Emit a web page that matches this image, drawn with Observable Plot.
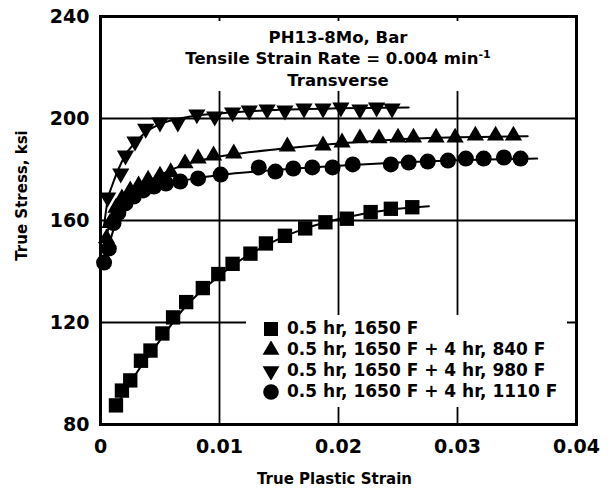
<!DOCTYPE html>
<html>
<head>
<meta charset="utf-8">
<script src="https://cdn.jsdelivr.net/npm/d3@7"></script>
<script src="https://cdn.jsdelivr.net/npm/@observablehq/plot@0.6"></script>
<style>
  body { margin: 0; background: #fff; }
  #wrap { position: relative; width: 612px; height: 488px; background: #fff; }
  #title { position: absolute; left: 102px; top: 21px; width: 472px; height: 70px; background: #fff;
           box-sizing: border-box; padding-top: 7px; text-align: center; font-family: "DejaVu Sans";
           font-weight: bold; font-size: 16.5px; line-height: 20.5px; color: #000; }
  #title sup { font-size: 11px; vertical-align: 0; position: relative; top: -6px; }
  #legend { position: absolute; left: 246px; top: 315px; width: 321px; height: 92px; background: #fff;
            box-sizing: border-box; padding-top: 3px; font-family: "DejaVu Sans"; font-weight: bold;
            font-size: 17px; color: #000; }
  #legend .row { height: 21px; line-height: 21px; display: flex; align-items: center; white-space: nowrap; }
  #legend svg { margin-left: 16px; margin-right: 7px; flex: none; }
</style>
</head>
<body>
<div id="wrap"></div>
<script>
// ---- text ----
const titleLine1 = "PH13-8Mo, Bar";
const titleLine2 = "Tensile Strain Rate = 0.004 min";
const titleLine2Sup = "-1";
const titleLine3 = "Transverse";
const xTitle = "True Plastic Strain";
const yTitle = "True Stress, ksi";
const seriesLabels = [
  "0.5 hr, 1650 F",
  "0.5 hr, 1650 F + 4 hr, 840 F",
  "0.5 hr, 1650 F + 4 hr, 980 F",
  "0.5 hr, 1650 F + 4 hr, 1110 F"
];
const xTicks = [0, 0.01, 0.02, 0.03, 0.04];
const xTickLabels = ["0", "0.01", "0.02", "0.03", "0.04"];
const yTicks = [80, 120, 160, 200, 240];
const yTickLabels = ["80", "120", "160", "200", "240"];
const xGrid = [0.01, 0.02, 0.03];
const yGrid = [120, 160, 200];

// ---- series A: squares, 0.5 hr 1650 F ----
const strainA = [0.0013,0.0018,0.0025,0.0034,0.0042,0.0052,0.0061,0.0072,0.0086,0.0099,0.0111,0.0126,0.0139,0.0155,0.0172,0.0189,0.0207,0.0227,0.0244,0.0262];
const stressA = [87.5,93.3,97.3,105,109,115.7,122,128,133.5,139,143,147,151,154,156.9,159.3,160.7,163.3,164.6,165.2];
const fitStrainA = [0.0011,0.003,0.005,0.007,0.009,0.011,0.013,0.015,0.017,0.019,0.021,0.023,0.025,0.0276];
const fitStressA = [85.5,100,113,125.5,134.5,142,148,152.8,156.5,159.4,161.6,163.3,164.6,165.6];

// ---- series B: triangles, + 4 hr 840 F ----
const strainB = [0.0005,0.0008,0.0013,0.0018,0.0025,0.0032,0.004,0.005,0.0059,0.0071,0.0082,0.0095,0.0112,0.0157,0.0187,0.0203,0.0218,0.0234,0.025,0.0263,0.0282,0.0298,0.0315,0.0332,0.0347];
const stressB = [153,159,165,168.6,171.8,173.7,176,177.6,178.9,182.4,184.3,185.5,186.3,189,189.4,190.6,192.2,192.2,192.5,192.5,192.5,192.5,193.3,193.3,193.3];
const fitStrainB = [0.0003,0.0008,0.0015,0.0025,0.0035,0.005,0.007,0.009,0.011,0.015,0.02,0.025,0.03,0.0359];
const fitStressB = [150,159,165,170.5,174,177.8,181.8,184.2,185.8,188,190.2,191.8,192.6,193];

// ---- series C: inverted triangles, + 4 hr 980 F ----
const strainC = [0.0006,0.0017,0.0021,0.0029,0.0038,0.005,0.0065,0.0081,0.0096,0.0111,0.0125,0.014,0.0155,0.0171,0.0187,0.0202,0.0218,0.0232,0.0245];
const stressC = [169,178.4,185.5,191,196,198.4,198.4,201.6,200.8,202.4,203.1,203.5,203.1,203.9,203.9,204.3,203.5,204.3,203.9];
const fitStrainC = [0.0003,0.0006,0.001,0.0015,0.002,0.003,0.004,0.005,0.007,0.01,0.015,0.02,0.0259];
const fitStressC = [158,168,174,180,185,191,195.3,197.8,200.3,202,203.4,204,204.3];

// ---- series D: circles, + 4 hr 1110 F ----
const strainD = [0.0003,0.0007,0.0011,0.0015,0.0021,0.0028,0.0036,0.0045,0.0055,0.0067,0.0082,0.0101,0.0133,0.0147,0.0162,0.0178,0.0195,0.0212,0.0244,0.0259,0.0275,0.0292,0.0307,0.0322,0.0339,0.0353];
const stressD = [143.5,149,159,163,166.7,169.4,171.8,173.3,174.5,175.3,176.5,178,180.8,179.2,180.4,180.8,180.8,182,182,182.7,183.1,183.5,184.3,184.3,184.7,184.3];
const fitStrainD = [0.0003,0.0007,0.0012,0.002,0.003,0.004,0.006,0.008,0.01,0.015,0.02,0.025,0.03,0.0367];
const fitStressD = [143,150,158,164.5,169,171.8,174.8,176.5,177.8,179.9,181.5,182.7,183.6,184.3];

const zip = (xs, ys) => xs.map((x, i) => ({x, y: ys[i]}));

const triangleDown = {
  draw(context, size) {
    const y = Math.sqrt(size / (Math.sqrt(3) * 3));
    context.moveTo(0, y * 2);
    context.lineTo(-Math.sqrt(3) * y, -y);
    context.lineTo(Math.sqrt(3) * y, -y);
    context.closePath();
  }
};
const symbols = [d3.symbolSquare, d3.symbolTriangle, triangleDown, d3.symbolCircle];
const radii = [8.1, 6.4, 6.4, 8];

const pointSets = [zip(strainA, stressA), zip(strainB, stressB), zip(strainC, stressC), zip(strainD, stressD)];
const fitSets = [zip(fitStrainA, fitStressA), zip(fitStrainB, fitStressB), zip(fitStrainC, fitStressC), zip(fitStrainD, fitStressD)];

const chart = Plot.plot({
  width: 612,
  height: 488,
  marginLeft: 100,
  marginRight: 36,
  marginTop: 16,
  marginBottom: 64,
  style: {fontFamily: "DejaVu Sans", fontSize: "19px", fontWeight: "bold", color: "black", background: "white", overflow: "visible"},
  x: {domain: [0, 0.04], ticks: xTicks, tickFormat: (d, i) => xTickLabels[xTicks.indexOf(d)], tickSize: 0, tickPadding: 15, label: null},
  y: {domain: [80, 240], ticks: yTicks, tickFormat: d => yTickLabels[yTicks.indexOf(d)], tickSize: 0, tickPadding: 11, label: null},
  marks: [
    Plot.gridY(yGrid, {stroke: "black", strokeOpacity: 1, strokeWidth: 1.8}),
    Plot.gridX(xGrid, {stroke: "black", strokeOpacity: 1, strokeWidth: 1.8}),
    ...fitSets.map(f => Plot.line(f, {x: "x", y: "y", curve: "monotone-x", stroke: "black", strokeWidth: 2})),
    ...pointSets.map((p, i) => Plot.dot(p, {x: "x", y: "y", symbol: symbols[i], r: radii[i], fill: "black", stroke: "none"})),
    Plot.frame({stroke: "black", strokeWidth: 3}),
    Plot.text([yTitle], {text: d => d, frameAnchor: "left", dx: -78, dy: -25, rotate: -90, fontSize: 15, fontWeight: "bold", textAnchor: "middle", lineAnchor: "middle"}),
    Plot.text([xTitle], {text: d => d, frameAnchor: "bottom", dx: -4, dy: 55, fontSize: 15, fontWeight: "bold", textAnchor: "middle", lineAnchor: "middle"})
  ]
});

const wrap = document.getElementById("wrap");
wrap.appendChild(chart);

// title block (white box over the grid, as in the original)
const title = document.createElement("div");
title.id = "title";
const l1 = document.createElement("div"); l1.textContent = titleLine1;
const l2 = document.createElement("div"); l2.textContent = titleLine2;
const sup = document.createElement("sup"); sup.textContent = titleLine2Sup; l2.appendChild(sup);
const l3 = document.createElement("div"); l3.textContent = titleLine3;
title.append(l1, l2, l3);
wrap.appendChild(title);

// legend
const legend = document.createElement("div");
legend.id = "legend";
seriesLabels.forEach((lab, i) => {
  const row = document.createElement("div");
  row.className = "row";
  const s = d3.create("svg").attr("width", 18).attr("height", 18).attr("viewBox", "-9 -9 18 18");
  s.append("path").attr("d", d3.symbol(symbols[i], radii[i] * radii[i] * Math.PI * 0.95)()).attr("fill", "black");
  row.appendChild(s.node());
  const t = document.createElement("span");
  t.textContent = lab;
  row.appendChild(t);
  legend.appendChild(row);
});
wrap.appendChild(legend);
</script>
</body>
</html>
